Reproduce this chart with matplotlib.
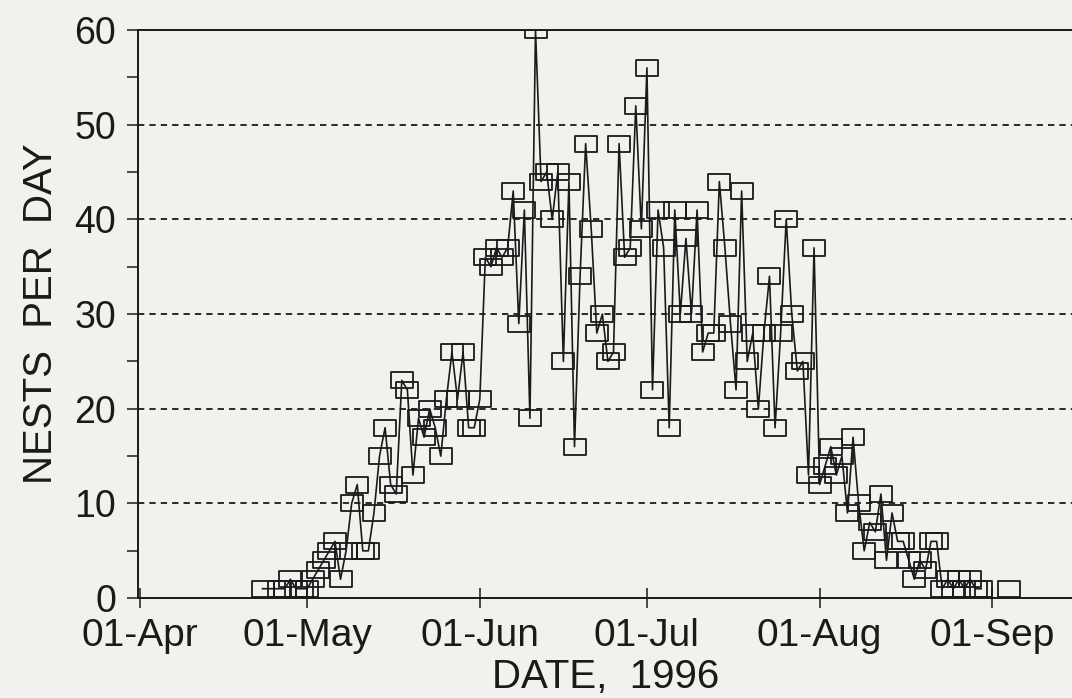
import numpy as np
import pandas as pd
import matplotlib
matplotlib.use('Agg')
import matplotlib.pyplot as plt
import matplotlib.dates as mdates
from matplotlib.path import Path

plt.rcParams['font.family'] = ['Liberation Sans', 'DejaVu Sans']

# days after 01-Apr-1996, nests counted that day
days = [22, 25, 26, 27, 28, 29, 30, 31, 32, 33, 34, 35, 36, 37, 38, 39, 40,
        41, 42, 43, 44, 45, 46, 47, 48, 49, 50, 51, 52, 53, 54, 55, 56, 57,
        58, 59, 60, 61, 62, 63, 64, 65, 66, 67, 68, 69, 70, 71, 72, 73, 74,
        75, 76, 77, 78, 79, 80, 81, 82, 83, 84, 85, 86, 87, 88, 89, 90, 91,
        92, 93, 94, 95, 96, 97, 98, 99, 100, 101, 102, 103, 104, 105, 106,
        107, 108, 109, 110, 111, 112, 113, 114, 115, 116, 117, 118, 119, 120,
        121, 122, 123, 124, 125, 126, 127, 128, 129, 130, 131, 132, 133, 134,
        135, 136, 137, 138, 139, 140, 141, 142, 143, 144, 145, 146, 147, 148,
        149, 150, 151]
nests = [1, 1, 1, 2, 1, 1, 1, 2, 3, 4, 5, 6, 2, 5, 10, 12, 5,
         5, 9, 15, 18, 12, 11, 23, 22, 13, 19, 17, 20, 18, 15, 21, 26, 21,
         26, 18, 18, 21, 36, 35, 37, 36, 37, 43, 29, 41, 19, 60, 44, 45, 40,
         45, 25, 44, 16, 34, 48, 39, 28, 30, 25, 26, 48, 36, 37, 52, 39, 56,
         22, 41, 37, 18, 41, 30, 38, 30, 41, 26, 28, 28, 44, 37, 29,
         22, 43, 25, 28, 20, 28, 34, 18, 28, 40, 30, 24, 25, 13,
         37, 12, 14, 16, 13, 15, 9, 17, 10, 5, 8, 7, 11, 4,
         9, 6, 6, 4, 2, 4, 3, 6, 6, 1, 2, 1, 2, 1,
         2, 1, 1]
late_days = [156]
late_nests = [1]

month_ticks = ['1996-04-01', '1996-05-01', '1996-06-01', '1996-07-01',
               '1996-08-01', '1996-09-01']

start = pd.Timestamp('1996-04-01')
dates = start + pd.to_timedelta(days, unit='D')
late_dates = start + pd.to_timedelta(late_days, unit='D')

bg = '#f1f1ed'
ink = '#1a1a1a'
box = Path([(-1, -0.72), (1, -0.72), (1, 0.72), (-1, 0.72), (-1, -0.72)],
           [Path.MOVETO, Path.LINETO, Path.LINETO, Path.LINETO, Path.CLOSEPOLY])

fig = plt.figure(figsize=(10.72, 6.98), dpi=100, facecolor=bg)
ax = fig.add_axes([0.129, 0.143, 0.871, 0.814], facecolor=bg)

ax.plot(dates, nests, color=ink, linewidth=1.2, marker=box, markersize=16.5,
        markerfacecolor='none', markeredgecolor=ink, markeredgewidth=1.3)
ax.plot(late_dates, late_nests, linestyle='none', marker=box, markersize=16.5,
        markerfacecolor='none', markeredgecolor=ink, markeredgewidth=1.3)

ax.set_ylim(0, 60)
ax.set_xlim(start - pd.Timedelta(days=0.3), start + pd.Timedelta(days=167.3))
ax.set_yticks(np.arange(0, 61, 10))
ax.set_yticks(np.arange(0, 61, 5), minor=True)
ax.set_xticks(pd.to_datetime(month_ticks))
ax.xaxis.set_major_formatter(mdates.DateFormatter('%d-%b'))

for yv in range(10, 60, 10):
    ax.axhline(yv, color=ink, linestyle=(0, (3.5, 2.8)), linewidth=1.3, zorder=0)

ax.spines['right'].set_visible(False)
for s in ['left', 'bottom', 'top']:
    ax.spines[s].set_color(ink)
    ax.spines[s].set_linewidth(1.4)

ax.tick_params(axis='y', which='both', direction='out', length=8, width=1.1,
               colors=ink, labelsize=27, pad=8)
ax.tick_params(axis='x', which='major', direction='inout', length=14, width=1.1,
               colors=ink, labelsize=28, pad=7)

ax.set_ylabel('NESTS  PER  DAY', fontsize=29, color=ink, labelpad=10)
ax.set_xlabel('DATE,  1996', fontsize=29, color=ink, labelpad=3)

fig.savefig('out.png', dpi=100, facecolor=bg)
